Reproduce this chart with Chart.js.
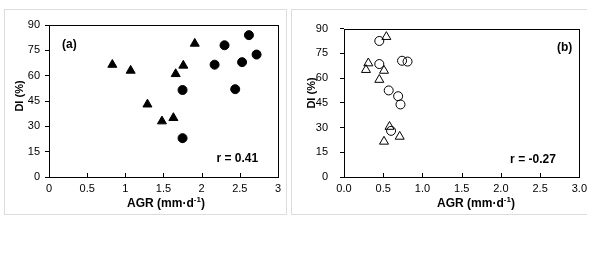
<!DOCTYPE html>
<html>
<head>
<meta charset="utf-8">
<script src="https://cdn.jsdelivr.net/npm/chart.js@4"></script>
<style>
  body { margin: 0; background: #fff; }
  .panel { position: absolute; box-sizing: border-box; border: 1px solid #dcdcdc; overflow: hidden; }
  #pa { left: 4px; top: 9px; width: 283px; height: 206px; }
  #pb { left: 291px; top: 9px; width: 296px; height: 206px; border-right: none; }
  canvas { position: absolute; left: 0; top: 0; }
</style>
</head>
<body>
<div class="panel" id="pa"><canvas id="chartA" width="281" height="204"></canvas></div>
<div class="panel" id="pb"><canvas id="chartB" width="300" height="204"></canvas></div>
<script>
// panel (a)
const aTriX = [0.83, 1.07, 1.29, 1.48, 1.63, 1.66, 1.76, 1.91];
const aTriY = [66.5, 63, 43, 33, 35, 61, 66, 79];
const aCirX = [1.75, 1.75, 2.17, 2.30, 2.44, 2.53, 2.62, 2.72];
const aCirY = [51.5, 23, 66.5, 78, 52, 68, 84, 72.5];

// panel (b)
const bTriX = [0.54, 0.31, 0.28, 0.51, 0.45, 0.58, 0.51, 0.71];
const bTriY = [85, 69, 65, 64.5, 59, 30.5, 21.5, 24.5];
const bCirX = [0.45, 0.45, 0.57, 0.69, 0.72, 0.74, 0.81, 0.60];
const bCirY = [82.5, 68.5, 52.5, 49, 44, 70.5, 70, 28];

const yTicks = [0, 15, 30, 45, 60, 75, 90];
const xTicks = [0, 0.5, 1, 1.5, 2, 2.5, 3];

const FONT = '"Liberation Sans", Arial, sans-serif';
Chart.defaults.font.family = FONT;
Chart.defaults.color = '#000';

function pts(xs, ys) {
  return xs.map((x, i) => ({ x: x, y: ys[i] }));
}

// box around plot, inward x ticks, axis titles and the text notes
const frame = {
  id: 'frame',
  afterDraw(chart, args, opts) {
    const ctx = chart.ctx;
    const a = chart.chartArea;
    const xs = chart.scales.x;
    const ys = chart.scales.y;
    ctx.save();
    ctx.strokeStyle = '#000';
    ctx.lineWidth = 1;
    ctx.strokeRect(Math.round(a.left) + 0.5, Math.round(a.top) + 0.5,
      Math.round(a.right - a.left), Math.round(a.bottom - a.top));
    xTicks.forEach(v => {
      const px = Math.round(xs.getPixelForValue(v)) + 0.5;
      ctx.beginPath();
      ctx.moveTo(px, a.bottom);
      ctx.lineTo(px, a.bottom - 4);
      ctx.stroke();
    });

    ctx.fillStyle = '#000';
    ctx.textBaseline = 'middle';

    // x title with superscript
    const big = 'bold 12px ' + FONT, small = 'bold 8px ' + FONT;
    const p1 = 'AGR (mm·d', p2 = '-1', p3 = ')';
    ctx.font = big; const w1 = ctx.measureText(p1).width, w3 = ctx.measureText(p3).width;
    ctx.font = small; const w2 = ctx.measureText(p2).width;
    let x = opts.xTitle[0] - (w1 + w2 + w3) / 2;
    const y = opts.xTitle[1];
    ctx.textAlign = 'left';
    ctx.font = big; ctx.fillText(p1, x, y); x += w1;
    ctx.font = small; ctx.fillText(p2, x, y - 4); x += w2;
    ctx.font = big; ctx.fillText(p3, x, y);

    // y title
    ctx.save();
    ctx.translate(opts.yTitle[0], opts.yTitle[1]);
    ctx.rotate(-Math.PI / 2);
    ctx.textAlign = 'center';
    ctx.font = 'bold 11px ' + FONT;
    ctx.fillText('DI (%)', 0, 0);
    ctx.restore();

    ctx.font = 'bold 12px ' + FONT;
    opts.labels.forEach(l => {
      ctx.textAlign = l.align;
      ctx.fillText(l.text, xs.getPixelForValue(l.x), ys.getPixelForValue(l.y));
    });
    ctx.restore();
  }
};

function makeChart(id, tri, cir, filled, o) {
  return new Chart(document.getElementById(id), {
    type: 'scatter',
    data: {
      datasets: [
        {
          data: tri,
          pointStyle: 'triangle',
          pointRadius: 5.2,
          backgroundColor: filled ? '#000' : 'rgba(0,0,0,0)',
          borderColor: '#000',
          borderWidth: 1
        },
        {
          data: cir,
          pointStyle: 'circle',
          pointRadius: 4.5,
          backgroundColor: filled ? '#000' : 'rgba(0,0,0,0)',
          borderColor: '#000',
          borderWidth: 1
        }
      ]
    },
    options: {
      responsive: false,
      animation: false,
      layout: { padding: { top: 15, right: o.padRight, left: 0, bottom: 0 } },
      plugins: {
        legend: { display: false },
        tooltip: { enabled: false },
        frame: { labels: o.labels, xTitle: o.xTitle, yTitle: o.yTitle }
      },
      scales: {
        x: {
          type: 'linear',
          min: 0,
          max: 3,
          afterBuildTicks: s => { s.ticks = xTicks.map(v => ({ value: v })); },
          afterFit: s => { s.height = 37; },
          grid: { display: false, drawTicks: false },
          border: { display: false },
          ticks: {
            padding: 5,
            font: { size: 11 },
            callback: v => o.decimals ? v.toFixed(1) : String(v)
          }
        },
        y: {
          min: 0,
          max: 90,
          afterBuildTicks: s => { s.ticks = yTicks.map(v => ({ value: v })); },
          afterFit: s => { s.width = o.yWidth; },
          grid: { drawOnChartArea: false, tickLength: 4, color: '#000' },
          border: { display: false },
          ticks: { padding: o.tickPad, font: { size: 11 } }
        }
      }
    },
    plugins: [frame]
  });
}

makeChart('chartA', pts(aTriX, aTriY), pts(aCirX, aCirY), true, {
  padRight: 3, yWidth: 44, tickPad: 5, decimals: false,
  xTitle: [161, 193.5], yTitle: [15, 86],
  labels: [
    { text: '(a)', x: 0.17, y: 78.5, align: 'left' },
    { text: 'r = 0.41', x: 2.74, y: 10.7, align: 'right' }
  ]
});

makeChart('chartB', pts(bTriX, bTriY), pts(bCirX, bCirY), false, {
  padRight: 11, yWidth: 52, tickPad: 12, decimals: true,
  xTitle: [184, 193.5], yTitle: [20, 83],
  labels: [
    { text: '(b)', x: 2.91, y: 78.5, align: 'right' },
    { text: 'r = -0.27', x: 2.70, y: 10.7, align: 'right' }
  ]
});
</script>
</body>
</html>
